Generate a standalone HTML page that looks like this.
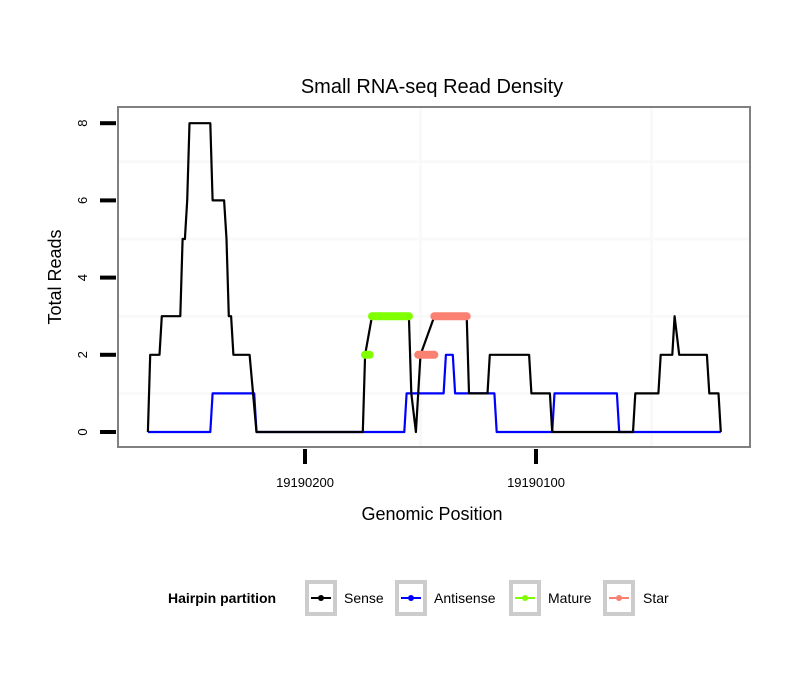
<!DOCTYPE html>
<html><head><meta charset="utf-8"><style>
body{margin:0;background:#fff}
svg text{font-family:"Liberation Sans",sans-serif}
</style></head><body>
<svg id="chart" width="810" height="690" xmlns="http://www.w3.org/2000/svg">
<rect width="810" height="690" fill="#fff"/>
<text x="432" y="93" font-size="20" text-anchor="middle">Small RNA-seq Read Density</text>
<g id="grid"></g>
<g id="series"></g>
<rect x="118" y="107" width="632" height="340" fill="none" stroke="#808080" stroke-width="2"/>
<g id="axes"></g>
<text x="432" y="520" font-size="18" text-anchor="middle">Genomic Position</text>
<text transform="translate(61,277) rotate(-90)" font-size="18" text-anchor="middle">Total Reads</text>
<g>
<text x="168" y="603" font-size="14" font-weight="bold">Hairpin partition</text>
<g><rect x="307" y="582" width="28" height="32" fill="#fff" stroke="#ccc" stroke-width="4"/><line x1="311" x2="331" y1="598" y2="598" stroke="#000" stroke-width="2"/><circle cx="321" cy="598" r="3" fill="#000"/><text x="344" y="603" font-size="14">Sense</text></g>
<g><rect x="397" y="582" width="28" height="32" fill="#fff" stroke="#ccc" stroke-width="4"/><line x1="401" x2="421" y1="598" y2="598" stroke="#00f" stroke-width="2"/><circle cx="411" cy="598" r="3" fill="#00f"/><text x="434" y="603" font-size="14">Antisense</text></g>
<g><rect x="511" y="582" width="28" height="32" fill="#fff" stroke="#ccc" stroke-width="4"/><line x1="515" x2="535" y1="598" y2="598" stroke="#7fff00" stroke-width="2"/><circle cx="525" cy="598" r="3" fill="#7fff00"/><text x="548" y="603" font-size="14">Mature</text></g>
<g><rect x="605" y="582" width="28" height="32" fill="#fff" stroke="#ccc" stroke-width="4"/><line x1="609" x2="629" y1="598" y2="598" stroke="#fa8072" stroke-width="2"/><circle cx="619" cy="598" r="3" fill="#fa8072"/><text x="643" y="603" font-size="14">Star</text></g>
</g>
</svg>
<script>
const senseX=[19190268,19190267,19190263,19190262,19190254,19190253,19190252,19190251,19190250,19190241,19190240,19190235,19190234,19190233,19190232,19190231,19190224,19190221,19190175,19190174,19190171,19190155,19190154,19190152,19190150,19190144,19190130,19190129,19190121,19190120,19190103,19190102,19190094,19190093,19190058,19190057,19190047,19190046,19190041,19190040,19190038,19190026,19190025,19190021,19190020];
const senseY=[0,2,2,3,3,5,5,6,8,8,6,6,5,3,3,2,2,0,0,2,3,3,1,0,2,3,3,1,1,2,2,1,1,0,0,1,1,2,2,3,2,2,1,1,0];
const antiX=[19190268,19190241,19190240,19190222,19190221,19190157,19190156,19190140,19190139,19190136,19190135,19190118,19190117,19190093,19190092,19190065,19190064,19190020];
const antiY=[0,0,1,1,0,0,1,1,2,2,1,1,0,0,1,1,0,0];
const matureStart=[19190174,19190171];
const matureEnd=[19190172,19190155];
const matureY=[2,3];
const starStart=[19190151,19190144];
const starEnd=[19190144,19190130];
const starY=[2,3];
const yTicks=[0,2,4,6,8];
const xTicks=[19190200,19190100];
const xMinor=[19190150,19190050];

const NS='http://www.w3.org/2000/svg';
const sx=v=>305+(19190200-v)*2.31;
const sy=v=>432-v*38.6;
function mk(tag,attrs,parent){const e=document.createElementNS(NS,tag);for(const k in attrs)e.setAttribute(k,attrs[k]);parent.appendChild(e);return e;}
const grid=document.getElementById('grid'),series=document.getElementById('series'),axes=document.getElementById('axes');
[1,3,5,7].forEach(v=>{const l=mk('line',{x1:119,x2:749,y1:sy(v),y2:sy(v),stroke:'#f9f9f9','stroke-width':3},grid);

});
xMinor.forEach(v=>{const l=mk('line',{x1:sx(v),x2:sx(v),y1:108,y2:446,stroke:'#f9f9f9','stroke-width':3},grid);

});
function path(xs,ys,color,name){const d=xs.map((x,i)=>(i?'L':'M')+sx(x).toFixed(1)+','+sy(ys[i]).toFixed(1)).join('');
const p=mk('path',{d:d,fill:'none',stroke:color,'stroke-width':2.2,'stroke-linejoin':'round'},series);

}
path(antiX,antiY,'#0000ff','antisense-line');
path(senseX,senseY,'#000000','sense-line');
function segs(s,e,ys,color,name){s.forEach((v,i)=>{const l=mk('line',{x1:sx(v),x2:sx(e[i]),y1:sy(ys[i]),y2:sy(ys[i]),stroke:color,'stroke-width':8,'stroke-linecap':'round'},series);

});}
segs(matureStart,matureEnd,matureY,'#7fff00','mature-segment');
segs(starStart,starEnd,starY,'#fa8072','star-segment');
yTicks.forEach(v=>{const t=mk('line',{x1:100,x2:116,y1:sy(v),y2:sy(v),stroke:'#000','stroke-width':4},axes);


const tx=mk('text',{transform:`translate(87,${sy(v)}) rotate(-90)`,'font-size':13,'text-anchor':'middle'},axes);tx.textContent=v;

});
xTicks.forEach(v=>{const t=mk('line',{x1:sx(v),x2:sx(v),y1:449,y2:464,stroke:'#000','stroke-width':4},axes);


const tx=mk('text',{x:sx(v),y:487,'font-size':13,'text-anchor':'middle'},axes);tx.textContent=v;

});
</script>
</body></html>
